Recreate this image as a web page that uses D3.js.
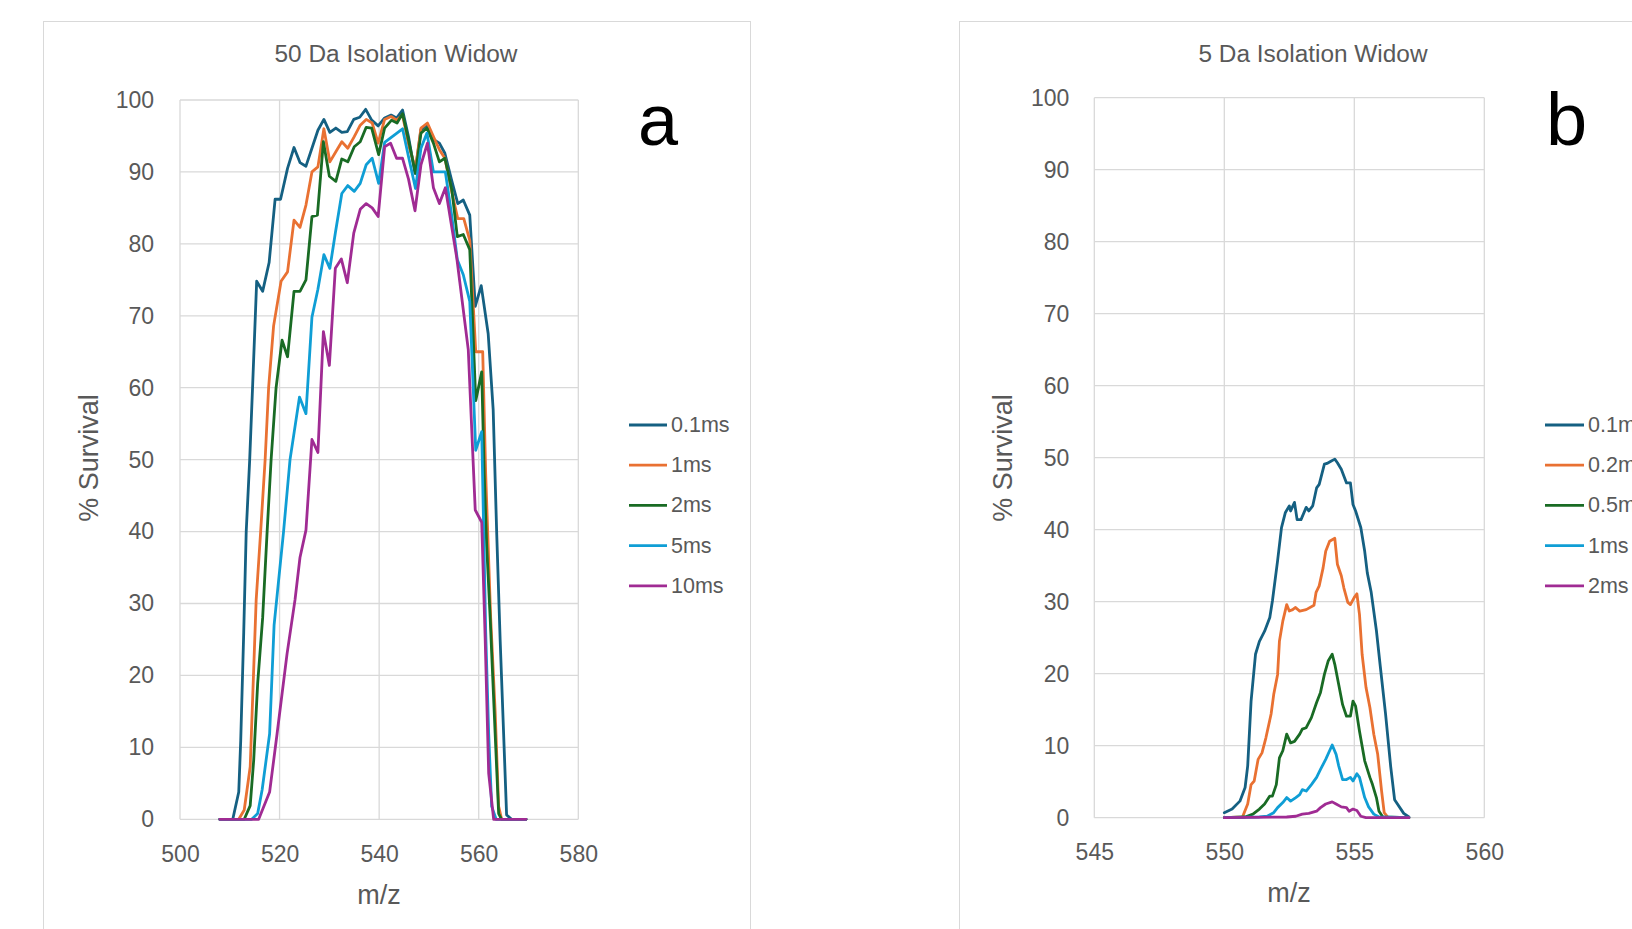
<!DOCTYPE html>
<html>
<head>
<meta charset="utf-8">
<script src="https://cdn.jsdelivr.net/npm/d3@7"></script>
<style>
  html, body { margin: 0; padding: 0; background: #ffffff; overflow: hidden; }
  svg { display: block; }
</style>
</head>
<body>
<svg id="chart" width="1632" height="929"></svg>
<script>
// ---------------- DATA ----------------
// Panel a: 50 Da isolation window, [m/z, % survival]
const titleA = "50 Da Isolation Widow";
const seriesNamesA = ["0.1ms", "1ms", "2ms", "5ms", "10ms"];
const a_0_1ms = [[508,0],[510.6,0],[511.8,3.8],[512.2,11],[512.8,26],[513.3,40],[514.0,50],[514.6,60.5],[515.4,74.8],[516.6,73.4],[517.9,77.4],[519.1,86.2],[520.2,86.2],[521.6,90.5],[522.9,93.4],[524.1,91.3],[525.3,90.8],[526.5,93.3],[527.7,95.8],[528.9,97.3],[530.1,95.5],[531.3,96.1],[532.5,95.5],[533.6,95.6],[534.9,97.3],[536.1,97.6],[537.3,98.7],[538.5,97.2],[539.8,96.4],[541.1,97.5],[542.4,97.9],[543.5,97.5],[544.7,98.6],[545.9,94.9],[547.2,89.8],[548.4,95.9],[549.6,96.5],[550.9,94.5],[552.1,94],[553.2,92.6],[554.5,89],[555.8,85.6],[556.9,86.1],[558.2,84],[559.3,71.3],[560.5,74.2],[561.9,67.5],[562.9,57],[563.6,40],[564.3,25],[565,11.9],[565.6,0.6],[566.6,0],[569.5,0]];
const a_1ms = [[508,0],[511.8,0],[512.9,1.3],[514.1,7.3],[515.3,30.5],[516.2,40],[517.1,50],[517.8,60],[518.8,68.6],[520.3,74.8],[521.6,76.1],[522.9,83.3],[524.1,82.3],[525.3,85.4],[526.5,90],[527.7,90.7],[528.9,96],[530.1,91.4],[531.3,92.8],[532.5,94.2],[533.7,93.3],[535,94.9],[536.2,96.5],[537.4,97.3],[538.6,96.8],[539.8,94],[541.1,97.3],[542.4,97.7],[543.5,97.2],[544.7,97.9],[546,93.5],[547.3,90.5],[548.4,96.1],[549.7,96.8],[550.9,94.9],[552.1,93.1],[553.2,91.9],[554.5,87.5],[555.8,83.5],[557,83.5],[558.2,80.5],[559.4,65],[560.8,65],[561.4,48],[562.4,28],[563.3,15],[564,1.8],[564.6,0],[569.5,0]];
const a_2ms = [[508,0],[512.9,0],[514.1,1.9],[514.8,8.2],[515.6,18.9],[516.6,28],[517.5,40],[518.3,50],[519.3,60],[520.5,66.6],[521.6,64.3],[522.9,73.4],[524.1,73.4],[525.3,75],[526.5,83.8],[527.6,84],[528.8,94.2],[530,89.4],[531.3,88.7],[532.5,91.8],[533.7,91.4],[535,93.5],[536.2,94.2],[537.4,96.2],[538.5,96.1],[539.9,92.4],[541.1,96.1],[542.5,97.2],[543.6,96.8],[544.7,98.1],[545.9,94.4],[547.3,89.8],[548.4,95.4],[549.6,96.1],[550.9,94],[552.1,91.4],[553.2,91.9],[554.6,87.5],[555.7,81],[556.9,81.3],[558.2,79.2],[559.4,58.2],[560.6,62.2],[561.1,48],[561.6,38],[562.3,28],[563.3,11.9],[564,0.8],[564.6,0],[569.5,0]];
const a_5ms = [[508,0],[514.4,0],[515.6,0.8],[516.5,4.1],[518,11.9],[518.9,27],[520.8,40],[522.1,50],[524,58.7],[525.3,56.4],[526.5,69.8],[527.7,73.7],[528.9,78.5],[530.1,76.6],[531.2,81.5],[532.5,87],[533.7,88.1],[535,87.3],[536.2,88.4],[537.4,91],[538.6,91.9],[539.9,88.4],[541.1,94.1],[544.7,96],[545.9,92.1],[547.3,87.7],[548.4,93.3],[549.6,95.4],[550.9,90],[553.3,90],[554.6,83.8],[555.7,77.8],[556.9,75.7],[558.2,72],[559.4,51.3],[560.6,53.9],[561,40],[561.4,26],[562,11.9],[562.6,1.8],[563.5,0],[569.5,0]];
const a_10ms = [[508,0],[515.8,0],[518,3.8],[519.5,11.9],[521.5,23],[523.1,30.5],[524.1,36.4],[525.3,40.2],[526.5,52.8],[527.7,51],[528.8,67.8],[530,63.1],[531.2,76.6],[532.4,77.9],[533.6,74.6],[534.9,81.5],[536.2,84.8],[537.4,85.6],[538.6,85],[539.8,83.8],[541.1,93.5],[542.3,94],[543.5,91.9],[544.7,91.9],[545.9,89],[547.2,84.6],[548.4,91],[549.7,94],[550.9,87.8],[552.1,85.6],[553.3,87.8],[555.6,78],[557.9,65.3],[559.3,43],[560.6,41.3],[561.3,25],[562,6.4],[563,0],[569.5,0]];

// Panel b: 5 Da isolation window
const titleB = "5 Da Isolation Widow";
const seriesNamesB = ["0.1ms", "0.2ms", "0.5ms", "1ms", "2ms"];
const b_0_1ms = [[550,0.7],[550.3,1.2],[550.6,2.3],[550.8,4.2],[550.9,7.2],[551.03,16.2],[551.2,22.7],[551.35,24.5],[551.55,25.9],[551.75,27.8],[551.85,30.1],[552.05,35.7],[552.2,40.3],[552.35,42.4],[552.5,43.3],[552.55,42.6],[552.7,43.8],[552.8,41.4],[552.95,41.4],[553.15,43.1],[553.25,42.6],[553.4,43.3],[553.55,45.8],[553.65,46.3],[553.85,49.1],[553.95,49.2],[554.1,49.5],[554.25,49.8],[554.35,49.3],[554.5,48.4],[554.7,46.5],[554.85,46.5],[554.95,43.5],[555.05,42.6],[555.25,40.3],[555.4,37],[555.5,34],[555.65,31.3],[555.85,26],[556,21],[556.2,14.5],[556.4,7.1],[556.55,2.5],[556.9,0.6],[557.1,0.1]];
const b_0_2ms = [[550,0],[550.7,0.1],[550.9,1.9],[551.03,4.6],[551.15,5.1],[551.3,8.1],[551.45,9],[551.6,11.1],[551.8,14.4],[551.9,17.1],[552.05,19.9],[552.12,24.5],[552.25,27.3],[552.4,29.6],[552.5,28.7],[552.63,28.9],[552.73,29.2],[552.9,28.7],[553.15,28.9],[553.45,29.5],[553.53,31.3],[553.65,32.2],[553.8,34.7],[553.9,37],[554.05,38.4],[554.25,38.8],[554.35,35.2],[554.5,33.6],[554.6,31.9],[554.75,29.9],[554.85,29.6],[555,30.6],[555.1,31.1],[555.2,28.2],[555.3,22.7],[555.45,18.1],[555.6,15.3],[555.75,11.6],[555.9,8.8],[556.05,3.7],[556.15,0.7],[556.3,0],[557.1,0]];
const b_0_5ms = [[550,0],[550.8,0.1],[551.1,0.5],[551.35,1.2],[551.55,1.9],[551.75,3],[551.85,3],[552,4.6],[552.12,8.3],[552.25,9.3],[552.4,11.6],[552.55,10.4],[552.7,10.6],[552.9,11.6],[553,12.3],[553.15,12.5],[553.35,13.9],[553.55,16],[553.7,17.4],[553.85,19.9],[554,21.8],[554.15,22.7],[554.25,21.3],[554.4,18.5],[554.55,15.7],[554.7,14.1],[554.85,14.1],[554.95,16.2],[555.05,15.5],[555.2,12],[555.4,7.9],[555.6,5.6],[555.7,4.6],[555.85,2.8],[555.95,0.9],[556.1,0.1],[557.1,0]];
const b_1ms = [[550,0],[551.35,0.1],[551.65,0.2],[551.9,0.7],[552.05,1.4],[552.25,2.1],[552.4,2.8],[552.55,2.3],[552.75,2.8],[552.9,3.2],[553,3.9],[553.15,3.7],[553.35,4.6],[553.55,5.6],[553.7,6.7],[553.9,8.1],[554.15,10.1],[554.3,8.8],[554.4,7.2],[554.55,5.3],[554.7,5.3],[554.85,5.6],[554.95,5.1],[555.1,6.1],[555.2,5.6],[555.4,2.8],[555.55,1.5],[555.75,0.5],[555.95,0.1],[557.1,0]];
const b_2ms = [[550,0],[552.4,0.1],[552.75,0.2],[553,0.5],[553.25,0.6],[553.55,0.9],[553.7,1.4],[553.9,1.9],[554.15,2.2],[554.3,1.9],[554.5,1.5],[554.7,1.4],[554.8,0.9],[554.95,1.2],[555.1,1],[555.25,0.2],[555.45,0],[557.1,0]];

const xTicksA = [500, 520, 540, 560, 580];
const xTicksB = [545, 550, 555, 560];
const yTicks = [0, 10, 20, 30, 40, 50, 60, 70, 80, 90, 100];
const yTitle = "% Survival";
const xTitle = "m/z";
const seriesColors = ["#156082", "#E97132", "#196B24", "#0F9ED5", "#A02B93"];

// ---------------- DRAW ----------------
const svg = d3.select("#chart");
const FONT = "'Liberation Sans', Arial, sans-serif";
const TXT = "#595959";
const GRID = "#d9d9d9";

function drawPanel(o) {
  const g = svg.append("g");
  g.append("rect").attr("x", o.box[0] + 0.5).attr("y", o.box[1] + 0.5)
    .attr("width", o.box[2]).attr("height", o.box[3])
    .attr("fill", "#fff").attr("stroke", GRID).attr("stroke-width", 1);

  const x = d3.scaleLinear().domain(o.xDomain).range([o.plot.left, o.plot.right]);
  const y = d3.scaleLinear().domain([0, 100]).range([o.plot.bottom, o.plot.top]);

  g.append("g").selectAll("line.h").data(yTicks).join("line")
    .attr("x1", o.plot.left).attr("x2", o.plot.right)
    .attr("y1", d => y(d)).attr("y2", d => y(d))
    .attr("stroke", GRID).attr("stroke-width", 1.3);
  g.append("g").selectAll("line.v").data(o.xTicks).join("line")
    .attr("y1", o.plot.top).attr("y2", o.plot.bottom)
    .attr("x1", d => x(d)).attr("x2", d => x(d))
    .attr("stroke", GRID).attr("stroke-width", 1.3);

  const yAxis = g.append("g").attr("transform", `translate(${o.plot.left},0)`)
    .call(d3.axisLeft(y).tickValues(yTicks).tickSize(0).tickPadding(o.yPad));
  const xAxis = g.append("g").attr("transform", `translate(0,${o.plot.bottom})`)
    .call(d3.axisBottom(x).tickValues(o.xTicks).tickSize(0).tickPadding(o.xPad).tickFormat(d3.format("d")));
  [yAxis, xAxis].forEach(ax => {
    ax.select(".domain").remove();
    ax.selectAll("text").attr("fill", TXT).attr("font-family", FONT).attr("font-size", 23);
  });

  const line = d3.line().x(d => x(d[0])).y(d => y(d[1]));
  o.series.forEach((s, i) => {
    g.append("path").datum(s).attr("d", line)
      .attr("fill", "none").attr("stroke", seriesColors[i])
      .attr("stroke-width", 2.8).attr("stroke-linejoin", "round").attr("stroke-linecap", "round");
  });

  g.append("text").attr("x", o.titlePos[0]).attr("y", o.titlePos[1])
    .attr("text-anchor", "middle").attr("fill", TXT)
    .attr("font-family", "'Liberation Sans Narrow', 'Arial Narrow', 'Liberation Sans', sans-serif")
    .attr("font-size", 23).attr("textLength", o.titleLen).attr("lengthAdjust", "spacingAndGlyphs")
    .text(o.title);

  g.append("text").attr("transform", `translate(${o.yTitlePos[0]},${o.yTitlePos[1]}) rotate(-90)`)
    .attr("text-anchor", "middle").attr("dominant-baseline", "central")
    .attr("fill", TXT).attr("font-family", FONT).attr("font-size", 27).text(yTitle);
  g.append("text").attr("x", o.xTitlePos[0]).attr("y", o.xTitlePos[1])
    .attr("text-anchor", "middle").attr("dominant-baseline", "central")
    .attr("fill", TXT).attr("font-family", FONT).attr("font-size", 27).text(xTitle);

  const lg = g.append("g");
  o.names.forEach((n, i) => {
    const ly = o.legend.y0 + i * o.legend.dy;
    lg.append("line").attr("x1", o.legend.x0).attr("x2", o.legend.x1)
      .attr("y1", ly).attr("y2", ly).attr("stroke", seriesColors[i]).attr("stroke-width", 2.8);
    lg.append("text").attr("x", o.legend.x1 + 4).attr("y", ly)
      .attr("dominant-baseline", "central").attr("fill", TXT)
      .attr("font-family", FONT).attr("font-size", 21.5).text(n);
  });

  g.append("text").attr("x", o.letterPos[0]).attr("y", o.letterPos[1])
    .attr("fill", "#000").attr("font-family", FONT).attr("font-size", o.letterSize).text(o.letter);
}

drawPanel({
  box: [43, 21, 707, 1000],
  plot: { left: 180, right: 578.3, top: 100, bottom: 819.3 },
  xDomain: [500, 580], xTicks: xTicksA, yPad: 26, xPad: 26.5,
  series: [a_0_1ms, a_1ms, a_2ms, a_5ms, a_10ms], names: seriesNamesA,
  title: titleA, titlePos: [396, 61.5], titleLen: 243,
  yTitlePos: [88.5, 458], xTitlePos: [379, 895],
  legend: { x0: 629, x1: 667, y0: 425, dy: 40.2 },
  letter: "a", letterPos: [638, 145], letterSize: 72
});

drawPanel({
  box: [959, 21, 800, 1000],
  plot: { left: 1094.3, right: 1484.3, top: 97.7, bottom: 817.7 },
  xDomain: [545, 560], xTicks: xTicksB, yPad: 25, xPad: 25.5,
  series: [b_0_1ms, b_0_2ms, b_0_5ms, b_1ms, b_2ms], names: seriesNamesB,
  title: titleB, titlePos: [1313, 61.5], titleLen: 229,
  yTitlePos: [1003, 458], xTitlePos: [1289, 893],
  legend: { x0: 1545, x1: 1584, y0: 425, dy: 40.2 },
  letter: "b", letterPos: [1546, 145], letterSize: 74
});
</script>
</body>
</html>
